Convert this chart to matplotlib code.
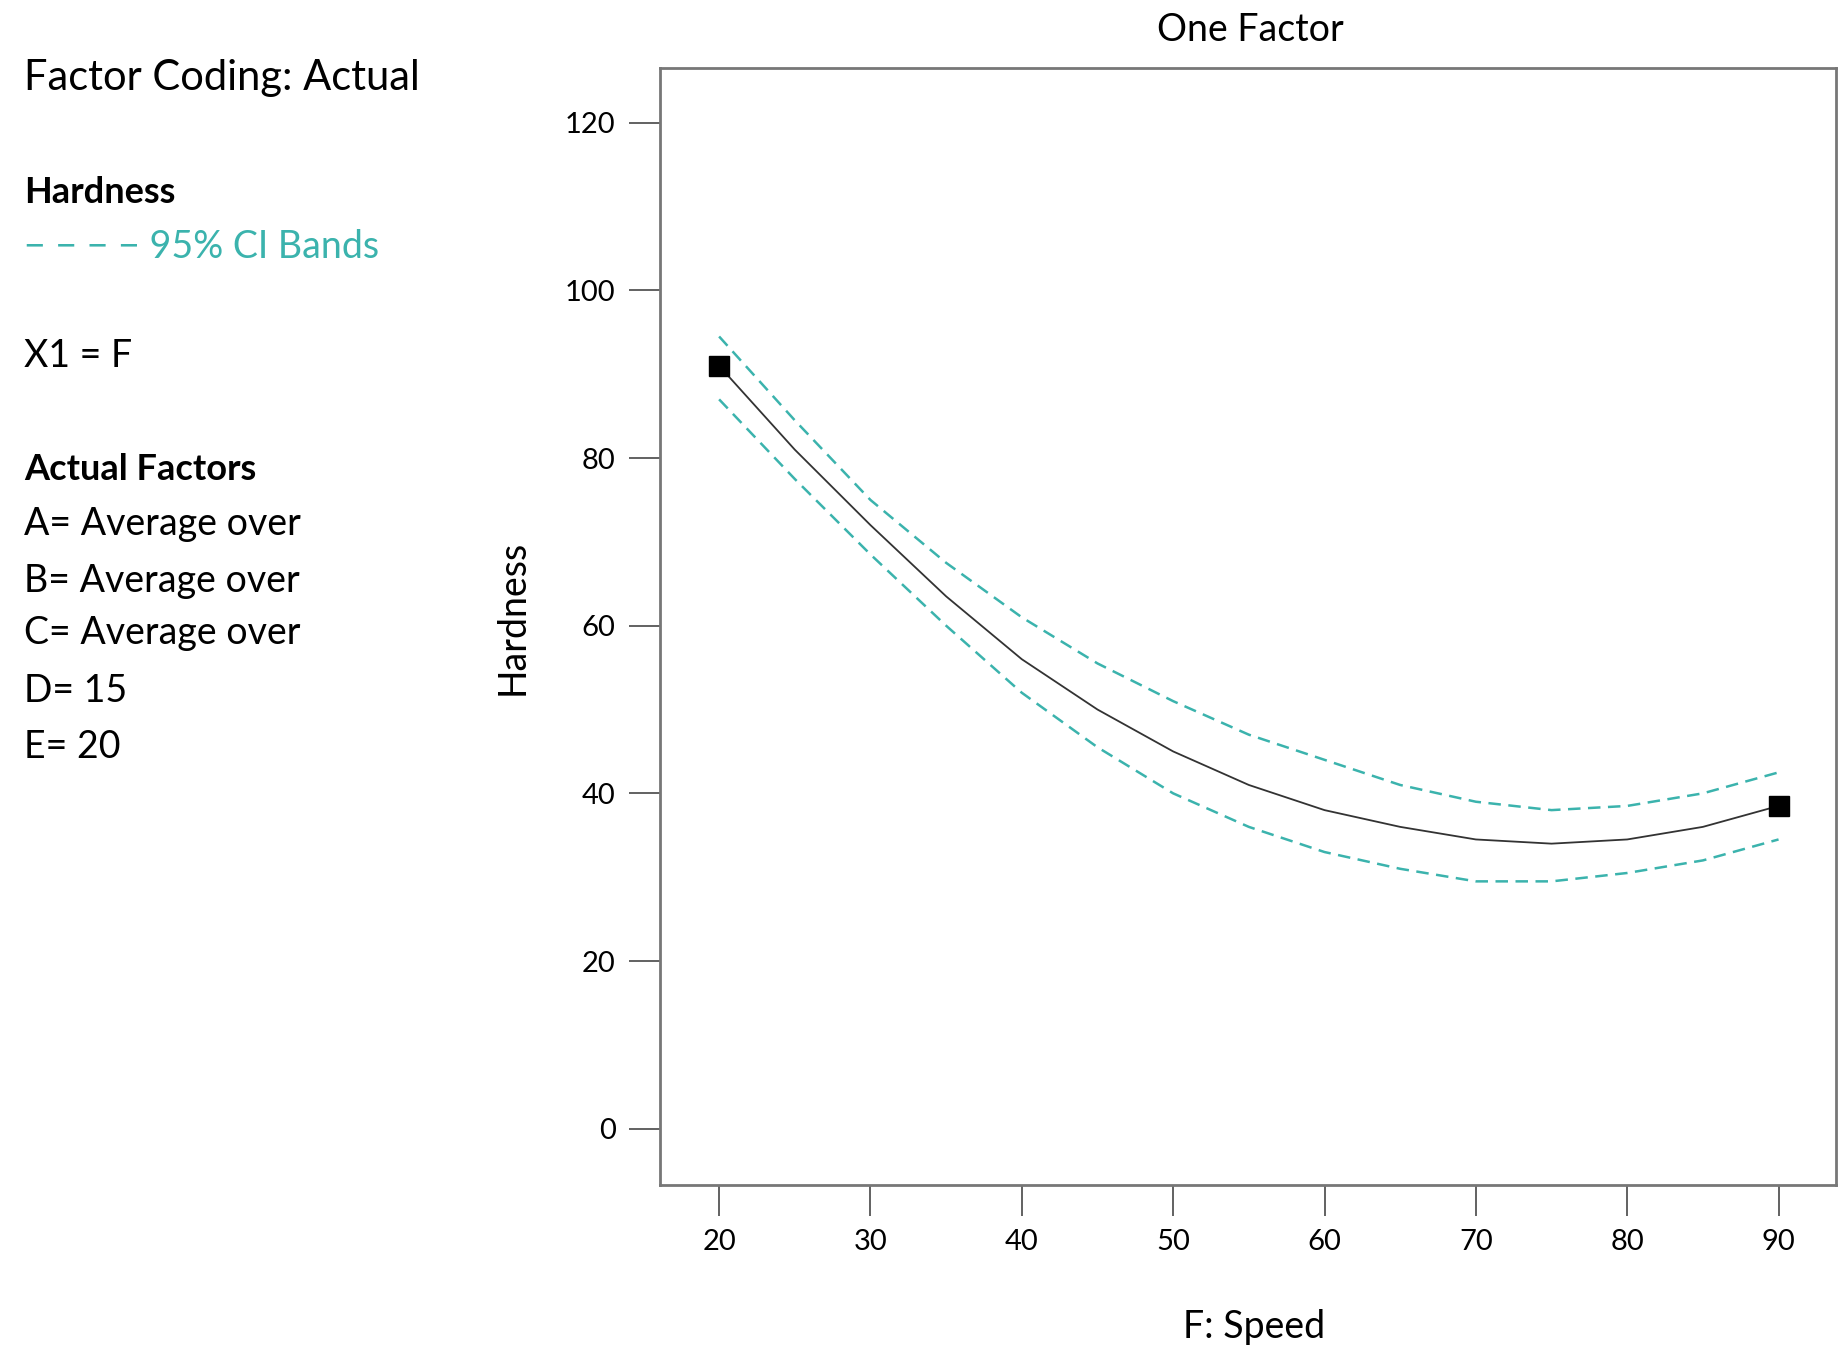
import matplotlib
matplotlib.use('Agg')
import matplotlib.pyplot as plt

plt.rcParams['font.family'] = ['Lato', 'DejaVu Sans']

# Data
speed = [20, 25, 30, 35, 40, 45, 50, 55, 60, 65, 70, 75, 80, 85, 90]
hardness = [91, 81, 72, 63.5, 56, 50, 45, 41, 38, 36, 34.5, 34, 34.5, 36, 38.5]
ci_upper = [94.5, 84.5, 75, 67.5, 61, 55.5, 51, 47, 44, 41, 39, 38, 38.5, 40, 42.5]
ci_lower = [87, 77.5, 68.5, 60, 52, 45.5, 40, 36, 33, 31, 29.5, 29.5, 30.5, 32, 34.5]
design_x = [20, 90]
design_y = [91, 38.5]

teal = '#3bb3ad'
fig = plt.figure(figsize=(18.49, 13.65), dpi=100)
ax = fig.add_axes([0.357, 0.132, 0.636, 0.818])

ax.plot(speed, hardness, color='#333333', lw=1.3)
ax.plot(speed, ci_upper, color=teal, lw=1.8, ls=(0, (5, 3)))
ax.plot(speed, ci_lower, color=teal, lw=1.8, ls=(0, (5, 3)))
ax.plot(design_x, design_y, 's', color='black', ms=14)

ax.set_xlim(16.1, 93.8)
ax.set_ylim(-6.7, 126.5)
ax.set_xticks(range(20, 91, 10))
ax.set_yticks(range(0, 121, 20))
ax.tick_params(labelsize=21, length=22, width=1.3, color='#555555', pad=10)
for s in ax.spines.values():
    s.set_color('#777777')
    s.set_linewidth(2)

fig.text(0.676, 0.978, 'One Factor', fontsize=27, ha='center', va='center')
fig.text(0.678, 0.028, 'F: Speed', fontsize=27, ha='center', va='center')
fig.text(0.277, 0.548, 'Hardness', fontsize=27, ha='center', va='center', rotation=90)

x0 = 0.013
fig.text(x0, 0.943, 'Factor Coding: Actual', fontsize=30, va='center')
fig.text(x0, 0.859, 'Hardness', fontsize=26, va='center', weight='bold')
fig.text(x0, 0.819, '− − − − 95% CI Bands', fontsize=27, va='center', color=teal)
fig.text(x0, 0.739, 'X1 = F', fontsize=27, va='center')
fig.text(x0, 0.656, 'Actual Factors', fontsize=26, va='center', weight='bold')
for y, t in [(0.616, 'A= Average over'), (0.574, 'B= Average over'),
             (0.536, 'C= Average over'), (0.494, 'D= 15'), (0.453, 'E= 20')]:
    fig.text(x0, y, t, fontsize=27, va='center')

fig.savefig('out.png', dpi=100)
